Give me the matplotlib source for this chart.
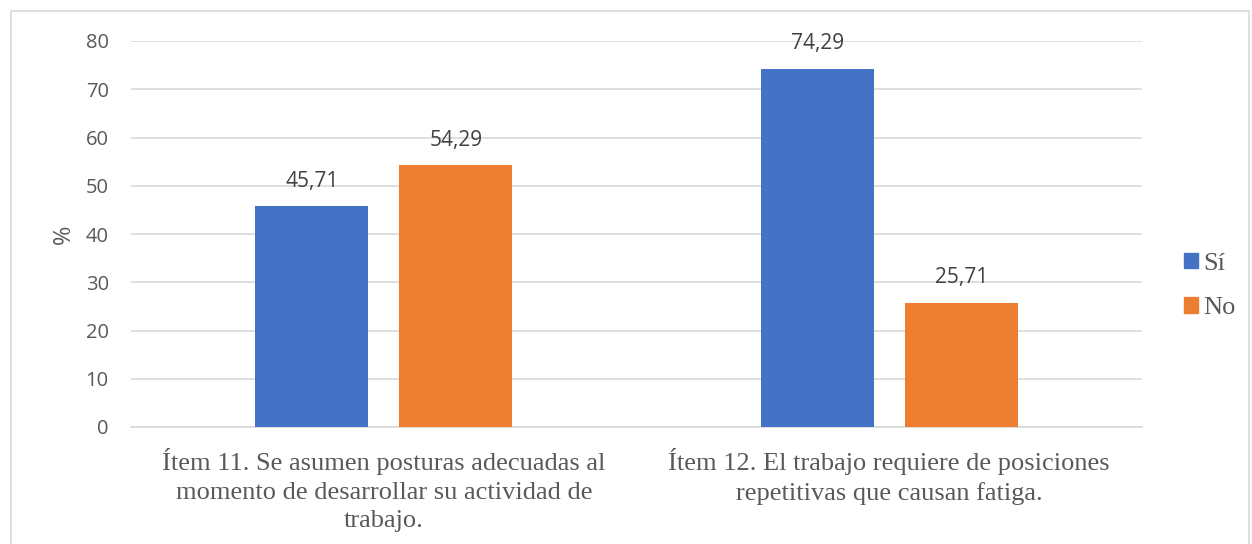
import matplotlib
matplotlib.use("Agg")
import matplotlib.pyplot as plt
from matplotlib.patches import Rectangle, Patch
import numpy as np

categories = ["Ítem 11. Se asumen posturas adecuadas al\nmomento de desarrollar su actividad de\ntrabajo.",
              "Ítem 12. El trabajo requiere de posiciones\nrepetitivas que causan fatiga."]
si_values = [45.71, 74.29]
no_values = [54.29, 25.71]
series_names = ["Sí", "No"]
yticks = [0, 10, 20, 30, 40, 50, 60, 70, 80]

blue = "#4472C4"
orange = "#ED7D31"
textc = "#595959"
sans = ["Open Sans", "DejaVu Sans"]
serif = ["Liberation Serif", "DejaVu Serif"]

fig = plt.figure(figsize=(12.52, 5.44), dpi=100)
fig.patches.append(Rectangle((11/1252, -0.1), (1249-11)/1252, (544-11)/544 + 0.1,
                             transform=fig.transFigure, fill=False,
                             edgecolor="#d9d9d9", linewidth=1.2))
ax = fig.add_axes([131/1252, (544-427)/544, (1142-131)/1252, (427-41)/544])

x = np.arange(len(categories))
w = 0.2235
off = 0.1425
b1 = ax.bar(x - off, si_values, w, color=blue, zorder=3)
b2 = ax.bar(x + off, no_values, w, color=orange, zorder=3)
for bars, vals in ((b1, si_values), (b2, no_values)):
    for r, v in zip(bars, vals):
        ax.text(r.get_x() + r.get_width()/2, v + 3.0, f"{v:.2f}".replace(".", ","),
                ha="center", va="bottom", fontsize=15, color="#404040", family=sans)

ax.set_xlim(-0.5, 1.5)
ax.set_ylim(0, 80)
ax.set_yticks(yticks)
ax.set_yticklabels([str(t) for t in yticks], family=sans, fontsize=14.5, color=textc)
ax.yaxis.grid(True, color="#d9d9d9", linewidth=1.2, zorder=0)
ax.set_axisbelow(True)
ax.tick_params(axis="y", length=0, pad=16)
ax.tick_params(axis="x", length=0, pad=15)
for s in ["top", "right", "left"]:
    ax.spines[s].set_visible(False)
ax.spines["bottom"].set_color("#d9d9d9")
ax.spines["bottom"].set_linewidth(1.2)
ax.set_xticks(x)
ax.set_xticklabels(categories, family=serif, fontsize=19, color=textc, linespacing=1.4)
ax.set_ylabel("%", family=sans, fontsize=17, color=textc, labelpad=7)

handles = [Patch(color=blue), Patch(color=orange)]
fig.legend(handles, series_names, loc="center left", bbox_to_anchor=(1184/1252, (544-286)/544),
           frameon=False, prop={"family": serif, "size": 19}, labelcolor=textc,
           handlelength=0.53, handleheight=0.53, handletextpad=0.2, labelspacing=0.83,
           borderpad=0, borderaxespad=0)

fig.savefig("out.png", dpi=100)
